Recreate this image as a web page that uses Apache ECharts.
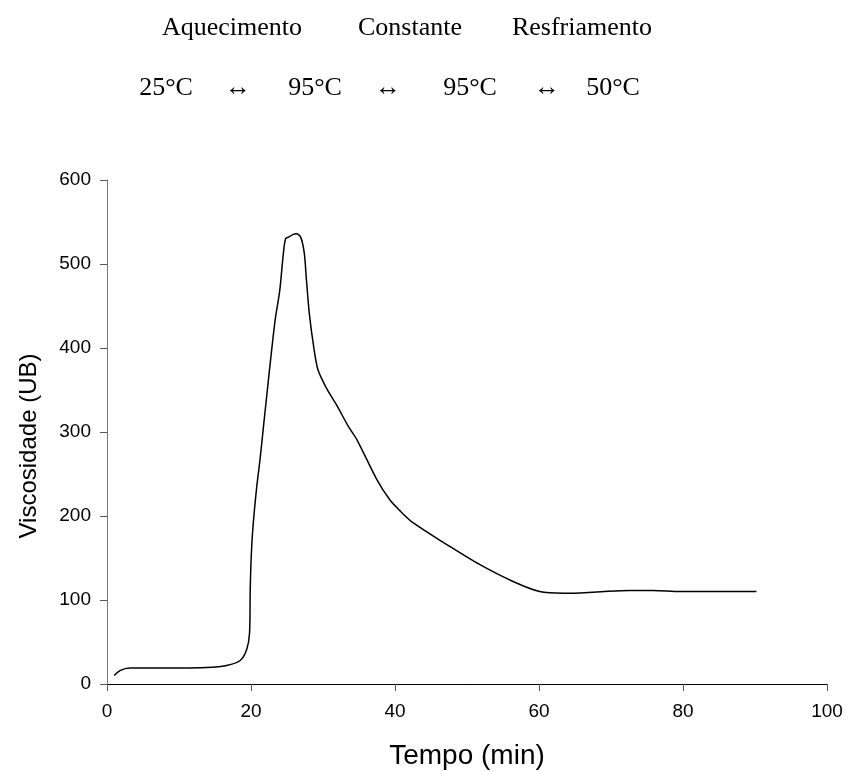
<!DOCTYPE html>
<html>
<head>
<meta charset="utf-8">
<script src="https://cdn.jsdelivr.net/npm/echarts@6/dist/echarts.min.js"></script>
<style>
  html, body { margin: 0; padding: 0; background: #fff; }
  #chart { width: 846px; height: 772px; }
</style>
</head>
<body>
<div id="chart"></div>
<script>
// Amylograph curve
const timeMin = [
  1.0, 1.8, 3.2, 6, 10, 13.8, 16.6, 18.5, 19.4, 19.8, 19.9, 20.1, 20.4, 20.8,
  21.25, 21.8, 23.3, 24.0, 24.5, 24.8, 25.2, 25.8, 26.3, 26.9, 27.4, 27.7,
  28.1, 28.7, 29.3, 30.5, 31.9, 33.5, 34.7, 37.5, 39.3, 40.6, 42.5, 47.2,
  51.8, 56.4, 60.1, 63.4, 68.0, 72.6, 75.9, 79.6, 90.2,
];
const viscosity = [
  10, 16, 19, 19, 19, 19.5, 22, 28, 41, 61, 116, 164, 200, 235,
  267, 312, 430, 469, 513, 530, 532, 535, 536, 532, 513, 481,
  441, 402, 374, 352, 332, 307, 291, 243, 219, 207, 192, 166,
  142, 122, 110, 108, 109.5, 111.4, 111.4, 110, 110,
];

const phaseLabels = ['Aquecimento', 'Constante', 'Resfriamento'];
const tempLabels = ['25°C', '↔', '95°C', '↔', '95°C', '↔', '50°C'];

// horizontal centres of the header texts (layout only)
const phaseX = [232, 410, 582];
const tempX = [166, 238, 315, 388, 470, 547, 613];

const serif = '"Liberation Serif", "Times New Roman", serif';
const sans = '"Liberation Sans", Arial, sans-serif';

const chart = echarts.init(document.getElementById('chart'));

const headerText = [
  ...phaseLabels.map((t, i) => ({
    type: 'text', x: phaseX[i], y: 28,
    style: { text: t, font: `26px ${serif}`, fill: '#000', align: 'center', verticalAlign: 'middle' },
  })),
  ...tempLabels.map((t, i) => ({
    type: 'text', x: tempX[i], y: 88,
    style: { text: t, font: `26px ${serif}`, fill: '#000', align: 'center', verticalAlign: 'middle' },
  })),
];

chart.setOption({
  animation: false,
  backgroundColor: '#fff',
  grid: { left: 107, right: 19, top: 180, bottom: 88, outerBoundsMode: 'none' },
  xAxis: {
    type: 'value',
    min: 0,
    max: 100,
    interval: 20,
    name: 'Tempo (min)',
    nameLocation: 'middle',
    nameGap: 58,
    nameTextStyle: { fontFamily: sans, fontSize: 28, color: '#000' },
    axisLine: { onZero: false, lineStyle: { color: '#000', width: 1 } },
    axisTick: { show: true, inside: false, length: 7, lineStyle: { color: '#555' } },
    axisLabel: { margin: 18, fontFamily: sans, fontSize: 19, color: '#000' },
    splitLine: { show: false },
  },
  yAxis: {
    type: 'value',
    min: 0,
    max: 600,
    interval: 100,
    name: 'Viscosidade (UB)',
    nameLocation: 'middle',
    nameGap: 66,
    nameTextStyle: { fontFamily: sans, fontSize: 24, color: '#000', padding: [0, 28, 0, 0] },
    axisLine: { show: true, lineStyle: { color: '#777', width: 1 } },
    axisTick: { show: true, inside: false, length: 7, lineStyle: { color: '#555' } },
    axisLabel: { margin: 16, fontFamily: sans, fontSize: 19, color: '#000' },
    splitLine: { show: false },
  },
  series: [
    {
      type: 'line',
      data: timeMin.map((t, i) => [t, viscosity[i]]),
      smooth: 0.3,
      symbol: 'none',
      lineStyle: { color: '#000', width: 1.5 },
    },
  ],
  graphic: headerText,
});
</script>
</body>
</html>
